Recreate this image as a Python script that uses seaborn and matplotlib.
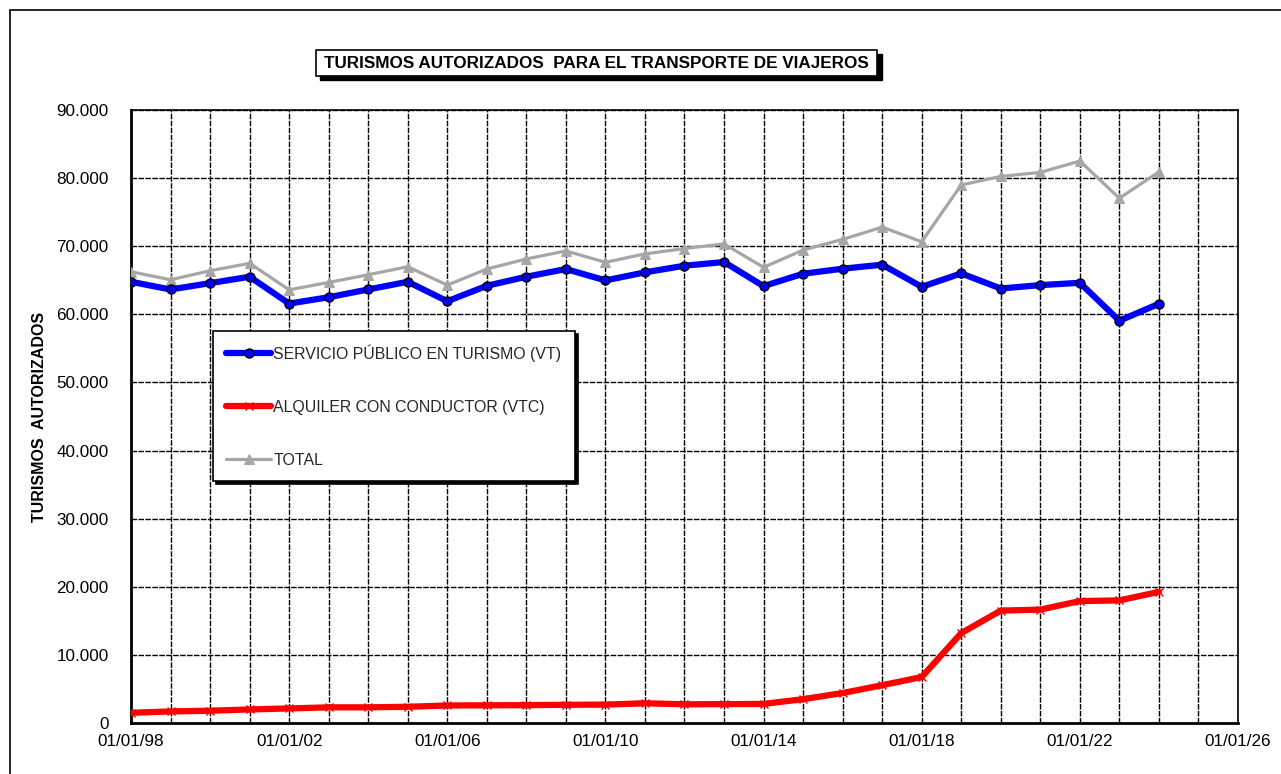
import pandas as pd
import seaborn as sns
import matplotlib.pyplot as plt
from matplotlib.patches import Rectangle
from matplotlib.ticker import FuncFormatter, MultipleLocator
import matplotlib.dates as mdates

# ================== datos ==================
years = list(range(1998, 2025))
vt = [64780, 63650, 64580, 65520, 61580, 62510, 63650, 64780, 61920, 64190, 65520,
      66650, 64980, 66160, 67140, 67680, 64140, 65960, 66700, 67290, 64040, 66010,
      63790, 64290, 64630, 59060, 61550]
vtc = [1500, 1700, 1800, 1990, 2140, 2300, 2300, 2380, 2570, 2600, 2620,
       2670, 2700, 2900, 2750, 2770, 2800, 3500, 4400, 5550, 6750, 13200,
       16500, 16650, 17900, 18000, 19250]
total = [66260, 65070, 66400, 67490, 63600, 64680, 65810, 66990, 64290, 66650, 68130,
         69310, 67640, 68870, 69660, 70340, 66900, 69440, 71000, 72800, 70660, 79000,
         80250, 80840, 82510, 77040, 80920]

lbl_vt = "SERVICIO PÚBLICO EN TURISMO (VT)"
lbl_vtc = "ALQUILER CON CONDUCTOR (VTC)"
lbl_total = "TOTAL"
title = "TURISMOS AUTORIZADOS  PARA EL TRANSPORTE DE VIAJEROS"
ylabel = "TURISMOS  AUTORIZADOS"

df = pd.DataFrame({
    "fecha": pd.to_datetime([f"{y}-01-01" for y in years]),
    "VT": vt, "VTC": vtc, "TOTAL": total,
})

# ================== estilo ==================
sns.set_theme(style="white")
plt.rcParams["font.family"] = ["Liberation Sans", "DejaVu Sans"]

W, H = 1281, 774
fig = plt.figure(figsize=(W / 100, H / 100), dpi=100)
ax = fig.add_axes([131 / W, 1 - 723 / H, (1238 - 131) / W, (723 - 110) / H])

sns.lineplot(data=df, x="fecha", y="TOTAL", ax=ax, color="#A6A6A6", lw=2.3,
             marker="^", markersize=7.5, markeredgecolor="#A6A6A6", label=lbl_total, zorder=3)
sns.lineplot(data=df, x="fecha", y="VTC", ax=ax, color="#FF0000", lw=4.5,
             marker="x", markersize=6, markeredgecolor="#FF0000", markeredgewidth=1,
             label=lbl_vtc, zorder=4)
sns.lineplot(data=df, x="fecha", y="VT", ax=ax, color="#0000FF", lw=4.5,
             marker="o", markersize=6.5, markeredgecolor="black", markeredgewidth=1,
             label=lbl_vt, zorder=5)

# ejes
ax.set_xlim(pd.Timestamp("1998-01-01"), pd.Timestamp("2026-01-01"))
ax.set_ylim(0, 90000)
ax.yaxis.set_major_locator(MultipleLocator(10000))
ax.yaxis.set_major_formatter(FuncFormatter(lambda v, p: f"{v:,.0f}".replace(",", ".")))
ax.set_xticks(pd.to_datetime([f"{y}-01-01" for y in range(1998, 2027, 4)]))
ax.set_xticks(pd.to_datetime([f"{y}-01-01" for y in range(1998, 2027)]), minor=True)
ax.xaxis.set_major_formatter(mdates.DateFormatter("%d/%m/%y"))
ax.tick_params(axis="both", which="both", length=0, labelsize=12.3, colors="black")
ax.tick_params(axis="x", pad=8)
ax.tick_params(axis="y", pad=16)

ax.grid(False)
ax.xaxis.grid(True, which="both", color="black", linestyle=(0, (4, 1)), linewidth=1)
ax.yaxis.grid(True, which="major", color="black", linestyle=(0, (4, 1)), linewidth=1)
ax.set_axisbelow(True)
for s in ax.spines.values():
    s.set_color("black")
    s.set_linewidth(1.2)
ax.spines["left"].set_linewidth(2)
ax.spines["bottom"].set_linewidth(2)

ax.set_xlabel("")
ax.set_ylabel(ylabel, fontsize=11.5, fontweight="bold", color="black", labelpad=7)

# leyenda
h, l = ax.get_legend_handles_labels()
order = [l.index(lbl_vt), l.index(lbl_vtc), l.index(lbl_total)]
leg = ax.legend([h[i] for i in order], [l[i] for i in order], loc="upper left",
                bbox_to_anchor=((213 - 131) / 1107, (723 - 331) / 613), borderaxespad=0,
                frameon=True, fancybox=False, edgecolor="black", framealpha=1,
                shadow={"color": "black", "alpha": 1}, labelspacing=2.4,
                handlelength=2.8, handletextpad=0.15, borderpad=0.85, fontsize=11.4)
leg.get_frame().set_linewidth(1.2)
leg.set_zorder(10)

# titulo con caja y sombra
fig.patches.append(Rectangle((320 / W, 1 - 80 / H), (882 - 320) / W, 26 / H,
                             transform=fig.transFigure, fc="black", ec="black", zorder=1))
fig.patches.append(Rectangle((316 / W, 1 - 76 / H), (877 - 316) / W, 26 / H,
                             transform=fig.transFigure, fc="white", ec="black", lw=1.2, zorder=2))
fig.text(596.5 / W, 1 - 63 / H, title, ha="center", va="center",
         fontsize=12.3, fontweight="bold", color="black", zorder=3)

# marco exterior
fig.patches.append(Rectangle((10 / W, -0.1), 1.2, 1.1 - 10 / H, transform=fig.transFigure,
                             fill=False, ec="black", lw=1.2))

fig.savefig("out.png", dpi=100)
